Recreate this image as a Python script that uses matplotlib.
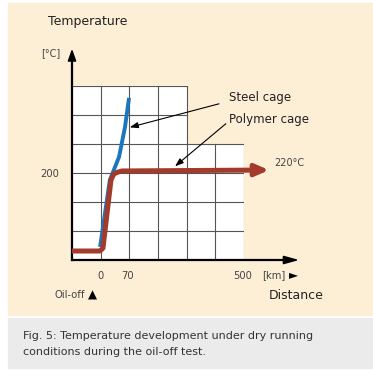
import matplotlib
matplotlib.use("Agg")
import matplotlib.pyplot as plt
from matplotlib.patches import Rectangle

# grid units: x columns, y rows (schematic chart)
XTICK_POS = [1, 1.95, 5.95]
XTICK_LABELS = ["0", "70", "500"]
YTICK_POS = [3]
YTICK_LABELS = ["200"]

# polymer cage curve (grid units)
POLY_X = [0.0, 0.98, 1.08, 1.36, 1.46, 1.60, 1.74, 6.40]
POLY_Y = [0.31, 0.31, 0.41, 2.76, 2.97, 3.03, 3.07, 3.10]
POLY_TIP = (6.97, 3.10)

# steel cage curve
STEEL_X = [0.98, 1.32, 1.64, 1.85, 1.99]
STEEL_Y = [0.45, 2.76, 3.55, 4.59, 5.59]

BEIGE = "#fdeed6"
BLUE = "#1a76bf"
BROWN = "#a23b2b"
TXT = "#222222"
GREY = "#444444"

W, H = 373, 380
fig = plt.figure(figsize=(W / 100, H / 100), dpi=100)
fig.patch.set_facecolor("white")
fig.patches.append(Rectangle((8 / W, (H - 315) / H), 1, 312 / H,
                             transform=fig.transFigure, color=BEIGE, zorder=-10))
fig.patches.append(Rectangle((8 / W, (H - 368) / H), 1, 50 / H,
                             transform=fig.transFigure, color="#ebebeb", zorder=-10))

ax = fig.add_axes([72 / W, (H - 260) / H, 172 / W, 174 / H])
ax.set_xlim(0, 6)
ax.set_ylim(0, 6)
ax.patch.set_alpha(0)
for s in ax.spines.values():
    s.set_visible(False)

# white grid cells: tall block (4 cols x 6 rows) + short block (2 cols x 4 rows)
ax.add_patch(Rectangle((0, 0), 4, 6, facecolor="white", edgecolor="none", zorder=1))
ax.add_patch(Rectangle((4, 0), 2, 4, facecolor="white", edgecolor="none", zorder=1))
gkw = dict(color="#555555", lw=0.8, zorder=2)
for c in range(1, 7):
    ax.plot([c, c], [0, 6 if c <= 4 else 4], **gkw)
for r in range(1, 7):
    ax.plot([0, 4 if r > 4 else 6], [r, r], **gkw)

# axes with arrows
ax.plot([0, 0], [0, 7.05], color="black", lw=1.6, zorder=5, clip_on=False)
ax.plot([0, 7.7], [0, 0], color="black", lw=1.6, zorder=5, clip_on=False)
ax.annotate("", xy=(0, 7.38), xytext=(0, 6.9),
            arrowprops=dict(arrowstyle="-|>,head_length=0.7,head_width=0.25",
                            color="black", lw=1.2), annotation_clip=False)
ax.annotate("", xy=(8.02, 0), xytext=(7.5, 0),
            arrowprops=dict(arrowstyle="-|>,head_length=0.9,head_width=0.25",
                            color="black", lw=1.2), annotation_clip=False)

# curves
ax.plot(STEEL_X, STEEL_Y, color=BLUE, lw=2.8, solid_capstyle="butt", zorder=6)
ax.plot(POLY_X, POLY_Y, color=BROWN, lw=3.6, solid_joinstyle="round",
        solid_capstyle="butt", zorder=7, clip_on=False)
ax.annotate("", xy=POLY_TIP, xytext=(POLY_X[-1] - 0.1, POLY_Y[-1]),
            arrowprops=dict(arrowstyle="-|>,head_length=0.8,head_width=0.35",
                            color=BROWN, lw=3.4), annotation_clip=False, zorder=7)

# labels with leaders
akw = dict(arrowstyle="-|>,head_length=0.5,head_width=0.18", color="black", lw=0.8)
ax.annotate("", xy=(1.92, 4.55), xytext=(5.22, 5.41), arrowprops=akw,
            annotation_clip=False, zorder=8)
ax.annotate("", xy=(3.52, 3.17), xytext=(5.44, 4.76), arrowprops=akw,
            annotation_clip=False, zorder=8)
ax.text(5.47, 5.59, "Steel cage", fontsize=8.5, color=TXT, va="center", clip_on=False)
ax.text(5.47, 4.83, "Polymer cage", fontsize=8.5, color=TXT, va="center", clip_on=False)
ax.text(7.07, 3.34, "220°C", fontsize=7.0, color=GREY, va="center", clip_on=False)

# ticks
ax.set_xticks(XTICK_POS, XTICK_LABELS)
ax.set_yticks(YTICK_POS, YTICK_LABELS)
ax.tick_params(length=0, labelsize=7.2, labelcolor=GREY)
ax.tick_params(axis="x", pad=8)
ax.tick_params(axis="y", pad=9)

ax.text(6.62, -0.52, "[km]", fontsize=7.2, color=GREY, va="center", clip_on=False)
ax.text(7.73, -0.52, "\u25ba", fontsize=8.5, color="black", va="center", ha="center",
        clip_on=False)
ax.text(0.45, -1.21, "Oil-off", fontsize=7.2, color=GREY, va="center",
        ha="right", clip_on=False)
ax.text(0.71, -1.21, "\u25b2", fontsize=8.5, color="black", va="center",
        ha="center", clip_on=False)
ax.text(6.85, -1.24, "Distance", fontsize=9, color=TXT, va="center", clip_on=False)
ax.text(-0.84, 8.21, "Temperature", fontsize=9, color=TXT, va="center", clip_on=False)
ax.text(-0.73, 7.14, "[°C]", fontsize=7.0, color=GREY, va="center", ha="center",
        clip_on=False)

fig.text(23 / W, 1 - 336 / H, "Fig. 5: Temperature development under dry running",
         fontsize=8.0, color="#333333", va="center")
fig.text(23 / W, 1 - 352 / H, "conditions during the oil-off test.",
         fontsize=8.0, color="#333333", va="center")

fig.savefig("out.png", dpi=100)
